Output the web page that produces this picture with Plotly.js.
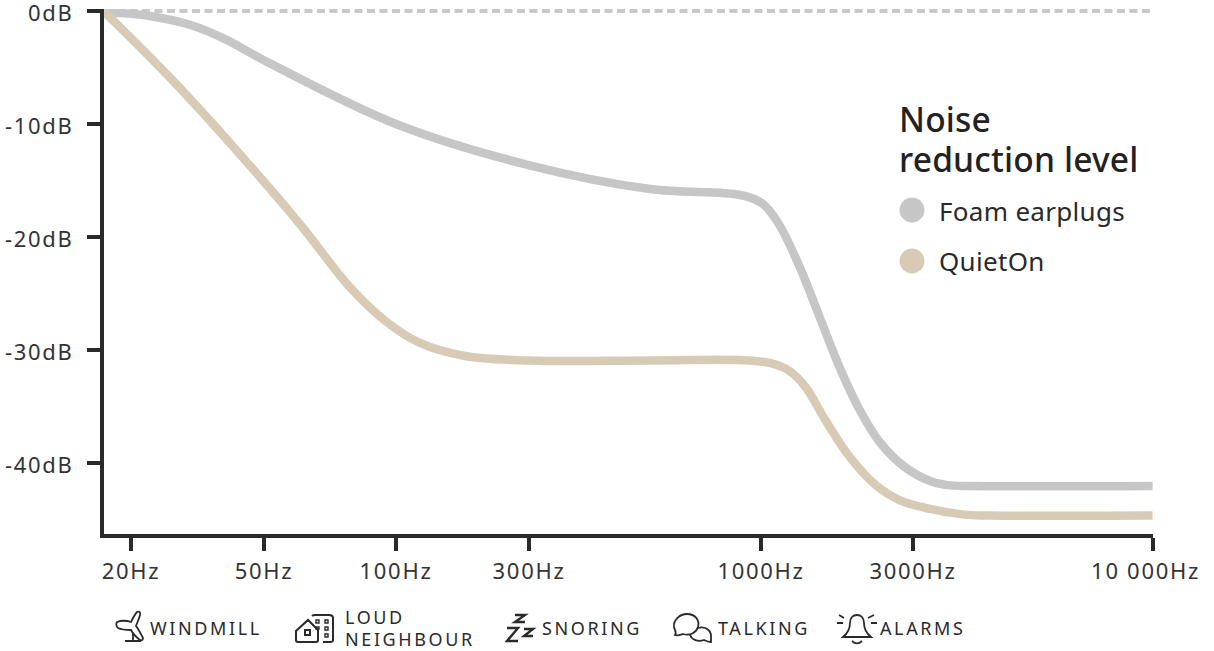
<!DOCTYPE html>
<html><head><meta charset="utf-8">
<script src="https://cdn.plot.ly/plotly-3.0.1.min.js"></script>
<style>html,body{margin:0;padding:0;background:#fff}#c{width:1214px;height:651px}</style>
</head><body><div id="c"></div>
<script>
// x is position along the (non-uniform) frequency axis, in axis steps
var foamX = [-0.20,0.14,0.45,0.71,1.00,2.00,3.00,3.92,4.60,4.76,4.88,5.05,5.20,5.35,5.50,5.65,5.84,6.03,6.16,6.35,7.71];
var foamDb = [-0.09,-0.44,-1.24,-2.48,-4.33,-9.99,-13.62,-15.74,-16.27,-16.98,-18.66,-22.72,-27.14,-31.56,-35.28,-38.11,-40.32,-41.56,-41.92,-42.00,-42.00];
var quietX = [-0.20,0.29,0.82,1.28,1.65,1.92,2.18,2.52,3.00,3.92,4.60,4.82,4.97,5.09,5.24,5.43,5.62,5.80,6.03,6.29,6.48,7.71];
var quietDb = [-0.09,-5.84,-12.64,-18.92,-24.40,-27.41,-29.35,-30.50,-30.90,-30.90,-30.86,-31.12,-31.83,-33.24,-36.16,-39.52,-41.91,-43.24,-44.03,-44.53,-44.61,-44.61];
var refX = [-0.20,7.71];
var refDb = [0,0];
var xTickVals = [0,1.004,2,3.004,4.755,5.902,7.713];
var xTickText = ['20Hz','50Hz','100Hz','300Hz','1000Hz','3000Hz','10 000Hz\u00A0\u00A0'];
var yTickVals = [0,-10,-20,-30,-40];
var yTickText = ['0dB','-10dB','-20dB','-30dB','-40dB'];
var seriesNames = ['Foam earplugs','QuietOn'];
var legendTitle = 'Noise<br>reduction level';
var useCases = ['WINDMILL','LOUD','NEIGHBOUR','SNORING','TALKING','ALARMS'];

var GRAY='#c6c6c6', TAN='#d8cbb5', INK='#2a2a2a', FONT='"Noto Sans", sans-serif';
var L=104,R=1153,T=9,B=534;
function px(x){return ((x-L)/(R-L)).toFixed(5);}
function py(y){return ((B-y)/(B-T)).toFixed(5);}
function path(s){ // icon outline written in picture pixels, mapped to paper space
  return s.replace(/(-?[\d.]+),(-?[\d.]+)/g,function(m,a,b){return px(+a)+','+py(+b);});
}
function icon(s,w){return {type:'path',xref:'paper',yref:'paper',path:path(s),line:{color:INK,width:w||1.6},fillcolor:'rgba(0,0,0,0)',layer:'above'};}
function note(t,x,y,size,color,weight){return {xref:'paper',yref:'paper',x:px(x),y:py(y),text:t,showarrow:false,xanchor:'left',yanchor:'middle',align:'left',
  font:{family:FONT,size:size,color:color||INK,weight:weight||400},borderpad:0,borderwidth:0};}
function dot(cx,cy,c){return {type:'circle',xref:'paper',yref:'paper',x0:px(cx-12.5),x1:px(cx+12.5),y0:py(cy+12.5),y1:py(cy-12.5),fillcolor:c,line:{width:0}};}

var shapes=[dot(912,210,GRAY),dot(912,261,TAN),
 // windmill
 icon('M117,622 C122,620 128,621 131,622 C133,618 135,614 137,612 C139,611 141,612 140,615 C139,619 137,623 136,626 C139,630 141,634 143,638 C143,640 141,641 140,640 C136,637 133,634 131,630 C127,630 122,630 118,628 C116,627 116,623 117,622 Z M133,632 L133,641 M125,641 L141,641',1.8),
 // house and building
 icon('M296,640 L296,631 L308,620 L318,630 L318,640 C318,642 317,642 316,642 L298,642 C297,642 296,642 296,640 Z M305,630 L310,630 L310,635 L305,635 Z M312,616 C313,615 314,615 315,615 L329,615 C332,615 333,616 333,618 L333,640 C333,642 332,642 330,642 L323,642',2),
 icon('M316,620 L319,620 L319,623 L316,623 Z M325,620 L328,620 L328,623 L325,623 Z M325,627 L328,627 L328,630 L325,630 Z M316,627 L319,627 L319,629 L316,629 Z M325,634 L328,634 L328,637 L325,637 Z',1.4),
 // Zzz
 icon('M507,628 L518,628 L507,641 L518,641 M515,615 L525,615 L515,622 L525,622 M524,629 L533,629 L524,636 L533,636',2.4),
 // speech bubbles
 icon('M675,635 C677,633 675,631 674,627 C673,620 680,614 687,614 C695,614 700,620 698,627 C696,633 690,636 683,634 C680,635 678,636 675,635 Z',1.8),
 icon('M698,628 C705,626 711,630 711,636 L711,642 C708,642 706,641 704,640 C698,642 692,640 690,635',1.8),
 // bell
 icon('M843,637 C848,633 850,629 850,623 C850,618 853,615 857,615 C861,615 864,618 864,623 C864,629 866,633 871,637 Z M852,641 C855,644 859,644 862,641 M839,615 L844,618 M837,623 L843,623 M868,618 L874,615 M871,623 L877,623',1.8)
];

var annotations=[
 note(legendTitle,899,140.75,33.5,'#222',500),
 note(seriesNames[0],939,210.5,26),
 note(seriesNames[1],939,261,26),
 note(useCases[0],150,628,18),
 note(useCases[1],345,617,18),
 note(useCases[2],345,639,18),
 note(useCases[3],542,628,18),
 note(useCases[4],718,628,18),
 note(useCases[5],880,628,18)
];

var data=[
 {x:refX,y:refDb,mode:'lines',line:{color:'#c8c8c8',width:4,dash:'8px,4.5px'},cliponaxis:false,hoverinfo:'skip',showlegend:false},
 {x:foamX,y:foamDb,name:seriesNames[0],mode:'lines',line:{color:GRAY,width:8.5,shape:'spline',smoothing:1},cliponaxis:false,showlegend:false},
 {x:quietX,y:quietDb,name:seriesNames[1],mode:'lines',line:{color:TAN,width:8.5,shape:'spline',smoothing:1},cliponaxis:false,showlegend:false}
];
var axisFont={family:FONT,size:22,color:'#333'};
var layout={width:1214,height:651,margin:{l:L,r:1214-R,t:T,b:651-B,pad:0},paper_bgcolor:'#fff',plot_bgcolor:'#fff',showlegend:false,
 xaxis:{range:[(L-131)/132.5,(R-131)/132.5],tickmode:'array',tickvals:xTickVals,ticktext:xTickText,ticks:'outside',ticklen:13,tickwidth:4,tickcolor:INK,ticklabelstandoff:2,
   showline:true,linewidth:4,linecolor:INK,showgrid:false,zeroline:false,tickfont:axisFont,fixedrange:true,ticklabeloverflow:'allow'},
 yaxis:{range:[-(B-11)/11.31,2/11.31],tickmode:'array',tickvals:yTickVals,ticktext:yTickText,ticks:'outside',ticklen:13,tickwidth:4,tickcolor:INK,ticklabelstandoff:9,
   showline:true,linewidth:4,linecolor:INK,showgrid:false,zeroline:false,tickfont:axisFont,fixedrange:true,ticklabeloverflow:'allow'},
 shapes:shapes,annotations:annotations};
Plotly.newPlot('c',data,layout,{displayModeBar:false,staticPlot:true}).then(function(){
  document.querySelectorAll('.annotation-text').forEach(function(t){
    var s=t.textContent;
    if(useCases.indexOf(s)>=0){t.style.letterSpacing='2.6px';}
    else if(seriesNames.indexOf(s)>=0){t.style.letterSpacing='0.3px';}
    else {
      t.style.letterSpacing='0.2px';
      var lines=t.querySelectorAll('tspan.line');
      if(lines.length===2){lines[1].setAttribute('dy','40px');}
    }
  });
  document.querySelectorAll('.xtick text, .ytick text').forEach(function(t){t.style.letterSpacing='1.7px';});
  document.querySelectorAll('.ytick text').forEach(function(t){t.setAttribute('y',(+t.getAttribute('y')||0)+2);});
});
</script></body></html>
